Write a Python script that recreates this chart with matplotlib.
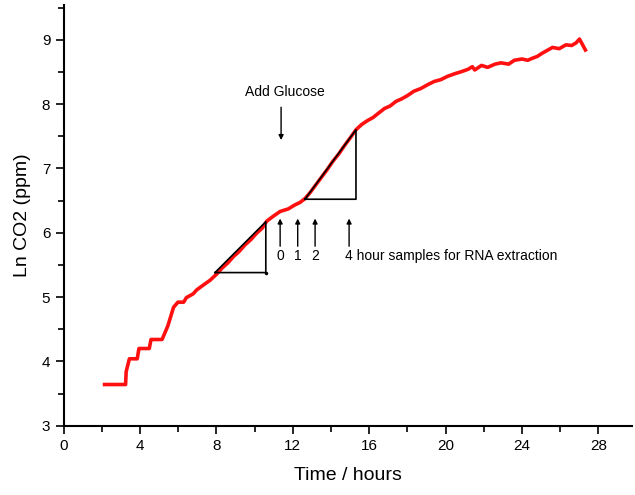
import matplotlib.pyplot as plt
from matplotlib.ticker import MultipleLocator

plt.rcParams['font.family'] = ['Liberation Sans', 'DejaVu Sans']

# curva de CO2
hours = [2.15, 3.25, 3.28, 3.45, 3.86, 3.95, 4.49, 4.58, 5.16, 5.46, 5.76, 5.99,
         6.29, 6.43, 6.79, 6.97, 7.29, 7.67, 8.03, 8.3, 8.6, 8.9, 9.2, 9.5,
         9.8, 10.1, 10.4, 10.64, 11.0, 11.34, 11.77, 12.1, 12.38, 12.64, 12.9,
         13.2, 13.5, 13.8, 14.1, 14.4, 14.7, 15.0, 15.31, 15.6, 15.9, 16.2,
         16.5, 16.8, 17.1, 17.4, 17.7, 18.0, 18.35, 18.7, 19.06, 19.4, 19.76,
         20.1, 20.47, 20.8, 21.18, 21.4, 21.53, 21.88, 22.2, 22.59, 22.9, 23.3,
         23.6, 24.0, 24.3, 24.53, 24.8, 25.06, 25.3, 25.6, 25.95, 26.3, 26.6,
         26.83, 27.01, 27.32]
ln_co2 = [3.64, 3.64, 3.84, 4.04, 4.04, 4.20, 4.20, 4.34, 4.34, 4.55, 4.84, 4.92,
          4.92, 4.99, 5.05, 5.11, 5.18, 5.26, 5.36, 5.45, 5.53, 5.63, 5.71, 5.81,
          5.89, 5.99, 6.07, 6.18, 6.26, 6.33, 6.37, 6.43, 6.47, 6.53, 6.62,
          6.74, 6.86, 6.98, 7.11, 7.22, 7.35, 7.47, 7.60, 7.68, 7.74, 7.79,
          7.86, 7.93, 7.97, 8.04, 8.08, 8.13, 8.20, 8.24, 8.30, 8.35, 8.38,
          8.43, 8.47, 8.50, 8.54, 8.58, 8.53, 8.60, 8.57, 8.62, 8.64, 8.62,
          8.68, 8.70, 8.68, 8.71, 8.74, 8.79, 8.83, 8.88, 8.86, 8.92, 8.91,
          8.95, 9.01, 8.84]

# triangulos de pendiente
tri1_x = [7.93, 10.59, 10.59, 7.93]
tri1_y = [5.38, 5.38, 6.17, 5.38]
tri2_x = [12.64, 15.31, 15.31, 12.64]
tri2_y = [6.52, 6.52, 7.60, 6.52]

# flechas de muestreo
sample_t = [11.34, 12.26, 13.17, 14.95]
sample_lbl = ['0', '1', '2', '4 hour samples for RNA extraction']
glucose_t = 11.39

fig = plt.figure(figsize=(6.35, 4.95), dpi=100)
ax = fig.add_axes([0.1, 0.14, 0.895, 0.85])

ax.plot(hours, ln_co2, color='#ff1010', lw=2.6, zorder=2)
ax.plot(tri1_x, tri1_y, color='black', lw=1.2, zorder=3)
ax.plot(tri2_x, tri2_y, color='black', lw=1.2, zorder=3)
ax.plot([tri1_x[1]], [tri1_y[1]], 'k.', ms=3)

arr = dict(arrowstyle='-|>', color='black', lw=1, mutation_scale=7, shrinkA=0, shrinkB=0)
ax.annotate('', xy=(glucose_t, 7.44), xytext=(glucose_t, 7.95), arrowprops=arr)
ax.text(11.6, 8.18, 'Add Glucose', ha='center', va='center', fontsize=10)

for t, lbl in zip(sample_t, sample_lbl):
    ax.annotate('', xy=(t, 6.22), xytext=(t, 5.79), arrowprops=arr)
    if len(lbl) == 1:
        ax.text(t, 5.64, lbl, ha='center', va='center', fontsize=10)
    else:
        ax.text(t - 0.2, 5.64, lbl, ha='left', va='center', fontsize=10)

ax.set_xlim(0, 29.75)
ax.set_ylim(3, 9.54)
ax.xaxis.set_major_locator(MultipleLocator(4))
ax.xaxis.set_minor_locator(MultipleLocator(2))
ax.yaxis.set_major_locator(MultipleLocator(1))
ax.yaxis.set_minor_locator(MultipleLocator(0.5))
ax.tick_params(which='major', direction='out', length=6, width=1.2, labelsize=11)
ax.tick_params(which='minor', direction='out', length=4, width=1.2)
ax.spines['top'].set_visible(False)
ax.spines['right'].set_visible(False)
ax.spines['left'].set_linewidth(1.5)
ax.spines['bottom'].set_linewidth(1.5)

ax.set_xlabel('Time / hours', fontsize=14, labelpad=10)
ax.set_ylabel('Ln CO2 (ppm)', fontsize=14, labelpad=8)

fig.savefig('out.png')
